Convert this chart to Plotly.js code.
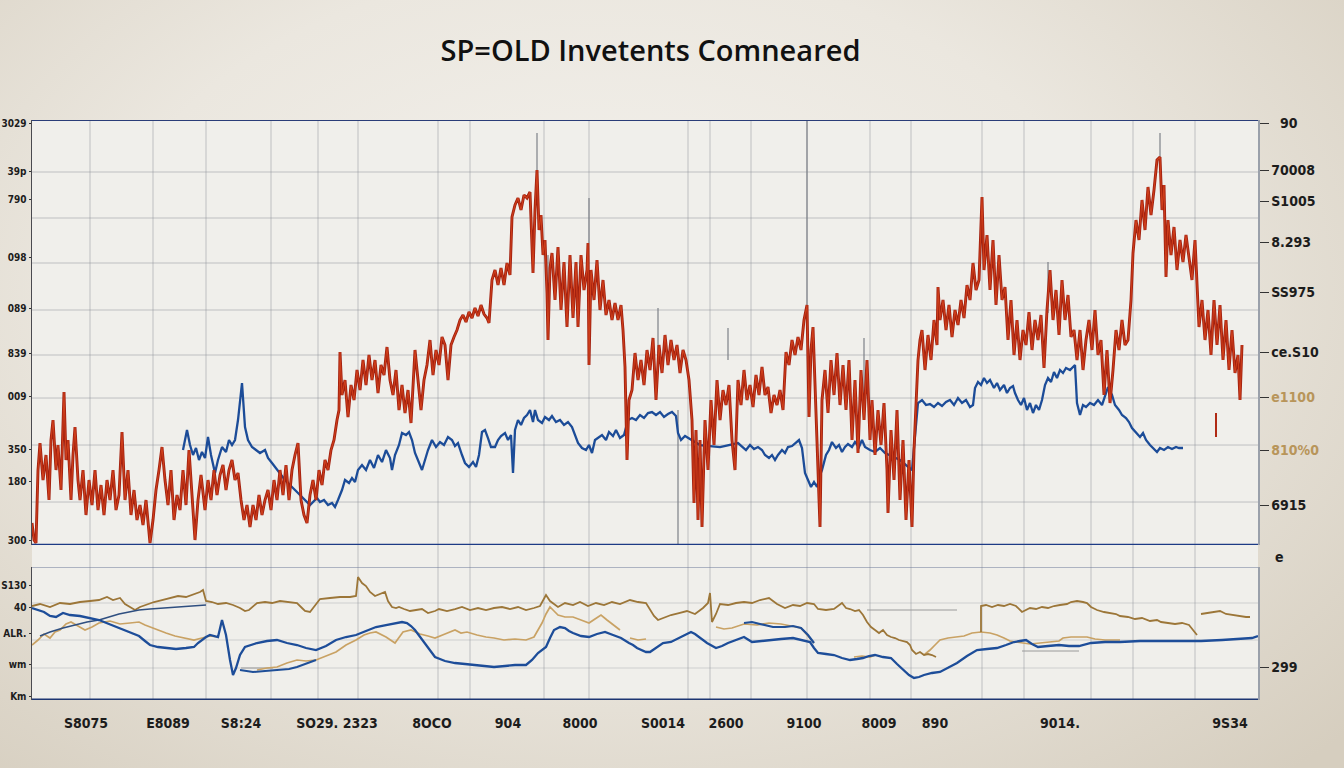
<!DOCTYPE html>
<html>
<head>
<meta charset="utf-8">
<script src="https://cdn.plot.ly/plotly-3.0.1.min.js"></script>
<style>
html,body{margin:0;padding:0;width:1344px;height:768px;overflow:hidden;
background:radial-gradient(ellipse 75% 85% at 45% 38%, #f4f2ee 0%, #ebe7df 50%, #d6cebf 100%);}
#chart{width:1344px;height:768px;}
</style>
</head>
<body>
<div id="chart"></div>
<script>
// ---------- TOP PANEL (index points) ----------
const redX = [32,34,36,38,40,43,46,49,51,53,56,58,61,64,66,68,71,73,75,78,80,83,86,89,92,95,98,101,104,107,110,113,116,119,122,125,128,131,134,137,140,143,146,149,150,153,156,159,162,165,168,171,174,177,180,183,186,189,192,195,198,201,205,208,211,214,217,220,223,226,229,232,235,238,241,244,247,250,253,256,259,262,265,268,271,274,277,280,283,286,289,292,295,298,301,304,307,310,313,316,319,322,325,328,331,334,337,339,340,342,345,348,351,354,357,360,363,366,369,372,375,378,381,384,387,390,393,396,399,402,405,408,411,414,415,418,421,424,427,430,433,436,439,442,445,448,451,454,457,460,463,466,469,472,475,478,481,484,487,489,492,495,498,501,504,507,510,512,515,518,521,524,527,530,533,535,537,539,541,543,545,547,548,550,552,555,558,561,564,567,570,573,576,578,581,584,587,588,589,591,594,597,600,603,606,609,612,615,618,621,623,625,627,629,632,635,638,641,644,647,650,653,656,659,662,665,668,671,674,677,680,683,686,689,692,694,696,698,700,702,705,708,711,714,717,720,723,726,729,732,735,738,741,744,747,750,753,756,759,762,765,768,771,774,777,780,783,786,789,792,795,798,801,804,807,809,811,813,816,818,820,822,825,828,831,834,837,840,843,846,849,852,855,858,861,864,867,870,872,875,878,881,884,887,888,891,894,897,900,903,906,909,912,914,916,918,920,922,925,928,931,934,937,938,940,943,946,949,952,955,958,961,964,967,970,973,976,979,982,984,987,990,993,996,999,1002,1005,1008,1011,1014,1017,1020,1023,1026,1029,1032,1035,1038,1041,1044,1047,1050,1053,1056,1059,1062,1065,1068,1071,1074,1077,1080,1083,1086,1089,1092,1095,1098,1101,1104,1107,1110,1113,1116,1119,1122,1125,1128,1131,1133,1136,1139,1142,1145,1148,1151,1154,1157,1160,1162,1164,1166,1168,1171,1174,1177,1180,1183,1186,1189,1192,1195,1197,1199,1202,1205,1208,1211,1214,1217,1220,1223,1226,1229,1232,1235,1238,1240,1242];
const redY = [22,5,2,75,102,65,90,45,105,125,75,100,55,153,85,105,45,90,118,65,45,75,30,65,40,75,35,60,30,65,45,75,35,50,113,45,75,30,55,25,40,20,45,15,2,25,55,75,98,65,40,75,25,50,35,75,40,95,45,5,45,70,35,65,45,75,50,70,80,55,75,85,65,72,45,25,40,18,40,25,50,30,45,55,35,65,45,75,50,80,45,75,90,102,45,30,22,50,65,45,75,60,85,75,95,105,125,135,193,150,165,128,160,145,175,155,185,160,190,165,185,152,180,170,198,165,150,175,135,160,132,155,122,175,195,165,135,165,180,205,170,195,180,208,200,165,200,208,215,225,230,223,233,227,237,229,240,231,227,222,265,275,260,277,260,282,270,328,340,347,335,350,347,353,272,335,375,315,330,290,305,252,205,277,292,245,298,235,283,218,290,227,283,218,290,255,275,302,180,275,245,285,235,265,230,245,225,242,225,240,215,178,85,145,155,192,165,185,160,195,175,207,145,200,172,210,180,205,185,200,172,195,185,165,125,42,115,25,105,18,125,75,145,100,165,125,155,140,160,105,75,165,140,175,145,160,138,170,150,178,150,158,132,150,140,155,135,193,180,205,190,208,195,225,240,128,195,218,125,65,18,145,175,132,185,150,192,140,180,135,185,105,165,92,175,125,185,105,145,90,135,100,142,75,32,115,65,135,45,105,25,85,18,95,145,185,205,215,175,210,185,225,200,258,225,245,215,240,208,235,220,245,227,260,245,282,255,265,348,275,310,255,305,240,290,245,258,205,245,190,225,185,215,200,233,195,225,205,230,177,235,275,225,255,210,265,225,250,208,215,185,215,175,205,225,195,235,190,205,150,195,142,175,215,195,225,200,205,245,292,325,305,345,315,358,330,355,385,388,335,360,268,325,290,318,275,305,283,310,290,265,305,258,218,245,205,235,190,245,200,240,185,225,175,215,172,190,145,200];
const redDashX = [1216];
const redDashLow = [108];
const redDashHigh = [132];

const blueX = [183,187,190,193,196,199,202,205,208,211,215,218,222,226,229,232,235,238,242,244,245,248,252,256,260,265,268,272,285,300,310,317,320,324,328,332,335,338,342,345,349,352,355,358,362,366,370,374,378,382,386,390,392,395,399,402,406,409,412,415,418,422,425,428,432,436,440,444,448,452,455,458,462,465,469,473,476,479,482,485,488,491,495,498,501,505,508,511,513,515,518,521,524,527,530,533,535,538,542,545,549,552,556,560,564,568,572,575,578,582,586,589,592,595,599,602,606,609,613,616,620,624,628,632,636,640,644,648,652,656,660,664,668,672,676,678,681,685,700,720,738,742,746,750,754,758,762,765,769,772,775,778,782,785,788,792,795,799,802,805,808,811,814,817,820,822,826,829,832,836,839,842,845,848,852,855,859,862,865,870,875,880,885,900,912,918,922,926,930,934,938,942,946,950,954,958,962,966,970,973,975,978,981,984,987,990,994,997,1000,1004,1007,1010,1013,1015,1018,1021,1024,1027,1030,1033,1036,1039,1042,1045,1048,1051,1054,1057,1060,1063,1066,1070,1075,1077,1080,1083,1086,1090,1094,1098,1102,1105,1108,1112,1115,1119,1122,1126,1129,1132,1136,1140,1143,1146,1150,1153,1157,1160,1164,1168,1172,1176,1179,1183];
const blueY = [95,115,100,90,97,85,93,87,108,90,72,85,98,93,105,100,105,125,162,135,118,105,98,95,92,95,87,82,65,50,40,47,43,45,40,42,38,45,55,65,62,67,63,75,80,75,85,77,90,83,95,87,75,90,100,112,110,113,105,92,85,75,85,95,105,98,103,100,108,105,99,102,90,82,78,83,78,90,113,115,107,98,98,105,109,112,105,110,72,115,125,120,127,130,135,123,135,125,122,128,125,129,123,125,120,123,118,110,102,97,95,100,92,105,108,110,105,113,109,115,107,110,125,127,125,130,127,132,133,130,133,128,131,133,129,112,105,109,100,98,102,98,95,100,96,98,95,90,87,90,85,90,95,92,98,99,102,105,97,72,65,58,63,58,70,75,90,95,103,97,100,93,98,101,98,103,98,105,98,95,93,97,92,85,75,142,145,140,141,138,142,139,143,145,140,147,142,145,138,140,157,163,160,167,162,165,157,162,155,160,152,157,159,152,145,140,147,135,142,132,140,135,145,160,167,163,173,167,175,172,177,175,180,142,130,140,138,142,140,145,140,150,158,150,140,135,130,127,123,117,113,108,112,105,100,97,93,97,95,98,96,98,97,97];

// thin grey high-low wicks
const wickX = [537,548,589,658,678,728,807,864,1048,1160];
const wickLow = [375,205,302,192,0,185,240,145,232,388];
const wickHigh = [412,290,347,237,135,217,425,207,283,412];

// ---------- BOTTOM PANEL (relative points) ----------
const goldUpX = [32,40,50,60,70,80,90,99,107,113,120,125,130,135,140,148,154,162,170,178,186,194,200,203,206,212,218,226,233,240,245,249,254,257,265,272,280,288,297,302,305,310,316,320,330,340,350,356,358,362,366,370,375,380,385,388,392,396,399,404,410,416,422,428,435,439,447,455,462,470,478,486,494,502,510,518,526,534,540,546,550,554,558,565,573,580,588,596,604,612,620,630,638,646,650,654,658,663,671,679,687,695,703,708,710,712,716,720,728,736,744,752,760,769,777,785,793,800,807,814,818,826,834,842,846,850,855,859,863,867,871,875,879,883,887,891,895,899,903,907,910,912,916,920,924,928,932,936,null,981,981,986,992,998,1004,1010,1016,1022,1026,1030,1036,1042,1048,1054,1060,1067,1071,1077,1083,1087,1091,1097,1104,1110,1116,1120,1128,1135,1142,1150,1157,1161,1169,1175,1182,1189,1193,1197,null,1201,1208,1214,1220,1226,1232,1240,1246,1250];
const goldUpY = [94,96,93,97,96,98,99,100,103,100,102,96,93,90,93,96,98,100,102,104,103,106,108,110,99,98,96,97,95,92,89,90,94,97,98,97,99,98,97,92,89,88,96,101,102,103,103,104,123,117,114,108,104,106,108,99,93,92,93,91,89,90,91,87,89,91,89,91,93,90,92,90,92,93,91,93,90,92,94,105,99,96,93,97,95,98,94,97,95,98,96,100,98,97,90,84,80,82,85,87,89,86,92,97,107,78,86,96,95,97,98,97,100,102,96,92,95,94,97,96,91,90,91,97,92,91,89,90,85,78,73,70,67,70,65,63,62,60,59,58,55,50,46,48,45,46,45,43,null,68,94,95,93,95,94,96,94,88,90,92,91,93,92,94,95,96,98,99,98,97,93,90,88,87,86,84,83,81,82,79,80,78,77,76,77,75,70,65,null,86,87,88,89,86,85,84,83,83];

const goldLowX = [32,38,44,50,55,60,66,71,78,85,92,99,110,120,130,139,145,150,158,166,175,184,194,202,210,218,null,257,267,277,287,297,306,316,326,336,346,356,364,370,376,386,395,399,403,411,420,428,435,445,455,461,467,477,486,494,504,515,526,534,538,542,546,550,554,558,565,573,581,589,595,601,607,613,620,null,630,638,646,null,716,724,732,744,757,769,781,793,801,808,814,null,854,862,870,875,null,924,930,936,940,948,956,964,972,981,990,997,1004,1010,1016,1022,1030,1040,1050,1059,1063,1071,1079,1087,1095,1105,1115,1120];
const goldLowY = [55,60,66,62,68,70,76,78,74,70,73,77,79,76,77,78,75,73,70,67,64,62,60,62,64,63,null,30,32,33,37,40,39,40,44,48,55,60,65,67,68,63,57,63,68,70,66,64,62,66,70,67,68,65,63,62,60,61,60,63,70,77,86,93,89,85,83,83,80,77,81,85,80,75,70,null,62,60,61,null,73,71,72,76,75,77,76,74,72,64,57,null,43,44,43,45,null,45,50,56,60,62,63,64,67,68,67,65,62,59,58,57,56,57,58,59,62,63,63,63,61,60,60,60];

const blueLowX = [32,38,44,50,56,63,70,80,90,99,109,119,129,139,145,150,158,166,176,186,194,198,202,206,210,214,218,222,226,230,233,236,240,245,251,257,267,277,287,297,306,316,326,336,346,356,366,376,386,395,402,407,411,415,425,435,445,455,465,475,485,494,505,515,526,532,538,542,546,550,554,560,565,569,573,581,589,597,605,613,621,629,633,637,642,646,650,656,663,671,681,691,695,699,707,716,722,728,736,744,752,760,769,781,793,802,810,814,818,826,834,842,850,857,863,869,875,883,891,897,903,909,914,919,924,932,940,948,957,967,977,987,997,1006,1014,1020,1026,1032,1038,1048,1059,1069,1079,1091,1105,1120,1140,1161,1180,1201,1222,1242,1252,1258];
const blueLowY = [92,90,88,84,83,87,85,84,82,80,76,72,68,64,59,55,53,52,51,52,53,57,60,63,65,64,63,80,65,40,25,32,45,53,55,57,59,60,57,55,52,50,54,60,63,65,69,73,75,77,78,77,74,70,57,43,39,37,36,35,34,33,34,35,35,40,47,50,53,62,70,73,72,69,67,64,63,66,68,65,62,57,55,52,50,48,48,52,57,58,63,68,66,63,57,52,54,57,60,63,58,59,60,61,62,60,58,52,47,46,45,42,40,41,42,44,45,43,42,36,30,25,22,23,25,27,28,32,37,44,50,51,52,55,58,59,60,56,53,54,55,54,54,57,58,58,59,59,59,59,60,61,62,64];

const blueRiseX = [40,50,63,75,87,99,109,119,129,139,150,162,178,194,206];
const blueRiseY = [64,68,72,75,78,80,83,86,88,90,91,92,93,94,95];
const blueHumpX = [744,752,760,773,785,793,801,808,814];
const blueHumpY = [77,78,76,73,73,74,72,65,57];
const blueDipX = [240,253,265,277,289,297,306,316];
const blueDipY = [30,28,29,30,31,33,36,40];

const grayFlatX0 = [241,867,1022];
const grayFlatX1 = [273,957,1079];
const grayFlatY = [32,90,49];

// ---------- AXES TEXT ----------
const titleText = "SP=OLD Invetents Comneared";
const xTickVals = [86,168,241,337,432,508,580,663,726,804,879,935,1060,1230];
const xTickText = ["S8075","E8089","S8:24","SO29. 2323","8OCO","904","8000","S0014","2600","9100","8009","890","9014.","9S34"];
const leftTopVals = [422,374,346,288,237,192,149,96,64,5];
const leftTopText = ["3029","39p","790","098","089","839","009","350","180","300"];
const leftBotVals = [115,93,67,36,3];
const leftBotText = ["S130","40","ALR.","wm","Km"];
const rightTopVals = [422,375,344,303,253,193,148,95,40];
const rightTopText = ["\u00a0\u00a090","70008","S1005","8.293","SS975","ce.S10","<span style='color:#b8955a'>e1100</span>","<span style='color:#b8955a'>810%0</span>","6915"];
const rightBotVals = [33];
const rightBotText = ["299"];
const gridXVals = [90,153,206,271,318,358,438,470,544,589,688,710,751,807,870,911,982,1024,1091,1133,1195];
const gridTopVals = [373,327,282,235,190,147,100,43];
const gridBotVals = [97,60,32];

// ---------- helpers ----------
function vsegs(xs, lo, hi){const X=[],Y=[];xs.forEach((x,i)=>{X.push(x,x,null);Y.push(lo[i],hi[i],null);});return {X,Y};}
function hsegs(x0, x1, v){const X=[],Y=[];x0.forEach((x,i)=>{X.push(x,x1[i],null);Y.push(v[i],v[i],null);});return {X,Y};}

const wk = vsegs(wickX, wickLow, wickHigh);
const rd = vsegs(redDashX, redDashLow, redDashHigh);
const gf = hsegs(grayFlatX0, grayFlatX1, grayFlatY);

const traces = [
  {x:wk.X, y:wk.Y, xaxis:'x', yaxis:'y', mode:'lines', line:{color:'#7d8088', width:1.2}, hoverinfo:'skip'},
  {x:blueX, y:blueY, xaxis:'x', yaxis:'y', mode:'lines', line:{color:'#1c4c98', width:2.3}, hoverinfo:'skip'},
  {x:redX, y:redY, xaxis:'x', yaxis:'y', mode:'lines', line:{color:'#a3200f', width:2.9}, hoverinfo:'skip'},
  {x:redX, y:redY, xaxis:'x', yaxis:'y', mode:'lines', line:{color:'#d8461e', width:1.1}, opacity:0.8, hoverinfo:'skip'},
  {x:rd.X, y:rd.Y, xaxis:'x', yaxis:'y', mode:'lines', line:{color:'#b02a14', width:2}, hoverinfo:'skip'},
  {x:[], y:[], xaxis:'x', yaxis:'y3', mode:'lines', hoverinfo:'skip'},
  {x:gf.X, y:gf.Y, xaxis:'x', yaxis:'y2', mode:'lines', line:{color:'#9a9a9a', width:1}, hoverinfo:'skip'},
  {x:goldLowX, y:goldLowY, xaxis:'x', yaxis:'y2', mode:'lines', line:{color:'#c9a264', width:1.7}, hoverinfo:'skip'},
  {x:goldUpX, y:goldUpY, xaxis:'x', yaxis:'y2', mode:'lines', line:{color:'#9c7638', width:1.8}, hoverinfo:'skip'},
  {x:blueRiseX, y:blueRiseY, xaxis:'x', yaxis:'y2', mode:'lines', line:{color:'#2f4f80', width:1.6}, hoverinfo:'skip'},
  {x:blueDipX, y:blueDipY, xaxis:'x', yaxis:'y2', mode:'lines', line:{color:'#1f4f98', width:2}, hoverinfo:'skip'},
  {x:blueHumpX, y:blueHumpY, xaxis:'x', yaxis:'y2', mode:'lines', line:{color:'#1f4f98', width:2.2}, hoverinfo:'skip'},
  {x:blueLowX, y:blueLowY, xaxis:'x', yaxis:'y2', mode:'lines', line:{color:'#1d4d99', width:2.3}, hoverinfo:'skip'},
  {x:[], y:[], xaxis:'x', yaxis:'y4', mode:'lines', hoverinfo:'skip'}
];

const gridCol = 'rgba(130,132,142,0.45)';
const shapes = [
  {type:'rect', xref:'paper', yref:'paper', x0:0, x1:1, y0:0, y1:1, fillcolor:'#f0efeb', line:{width:0}, layer:'below'}
];
gridXVals.forEach(g=>shapes.push({type:'line', xref:'x', yref:'paper', x0:g, x1:g, y0:0, y1:1, line:{color:gridCol, width:1}, layer:'below'}));
gridTopVals.forEach(g=>shapes.push({type:'line', xref:'paper', yref:'y', x0:0, x1:1, y0:g, y1:g, line:{color:gridCol, width:1}, layer:'below'}));
gridBotVals.forEach(g=>shapes.push({type:'line', xref:'paper', yref:'y2', x0:0, x1:1, y0:g, y1:g, line:{color:'rgba(130,132,142,0.3)', width:1}, layer:'below'}));
shapes.push({type:'line', xref:'paper', yref:'y', x0:0, x1:1, y0:425, y1:425, line:{color:'#2a3d78', width:2}});
shapes.push({type:'line', xref:'paper', yref:'y', x0:0, x1:1, y0:0, y1:0, line:{color:'#1d3b85', width:2.5}});
shapes.push({type:'line', xref:'paper', yref:'y2', x0:0, x1:1, y0:133, y1:133, line:{color:'#6a7898', width:1}});
shapes.push({type:'line', xref:'paper', yref:'y2', x0:0, x1:1, y0:0, y1:0, line:{color:'#1d3672', width:3}});

const tf = {family:'Liberation Sans Narrow, DejaVu Sans Condensed, Roboto, sans-serif', size:14, color:'#1c1c1c', weight:600};
const tfLeft = {family:'Liberation Sans Narrow, DejaVu Sans Condensed, Roboto, sans-serif', size:10, color:'#1c1c1c', weight:600};
const yCommon = {showgrid:false, zeroline:false, showline:true, linewidth:1.5, ticks:'outside', ticklen:5, tickcolor:'#333', tickfont:tf, fixedrange:true};

const layout = {
  width:1344, height:768,
  margin:{l:32, r:86, t:120, b:68},
  paper_bgcolor:'rgba(0,0,0,0)', plot_bgcolor:'rgba(0,0,0,0)',
  showlegend:false,
  title:{text:titleText, x:0.484, xanchor:'center', y:0.934, yanchor:'middle',
         font:{family:'Open Sans, Lato, sans-serif', size:29, color:'#111', weight:600}},
  xaxis:{range:[32,1258], anchor:'y2', domain:[0,1], tickmode:'array', tickvals:xTickVals, ticktext:xTickText,
         showgrid:false, zeroline:false, showline:false, ticks:'outside', ticklen:10, tickcolor:'rgba(0,0,0,0)', tickfont:tf},
  yaxis:Object.assign({}, yCommon, {domain:[0.2672,1], range:[0,425], anchor:'x', tickmode:'array', tickvals:leftTopVals, ticktext:leftTopText, linecolor:'#4a4a50', ticklen:2, tickfont:tfLeft}),
  yaxis2:Object.assign({}, yCommon, {domain:[0,0.2293], range:[0,133], anchor:'x', tickmode:'array', tickvals:leftBotVals, ticktext:leftBotText, linecolor:'#4a4a50', ticklen:2, tickfont:tfLeft}),
  yaxis3:Object.assign({}, yCommon, {overlaying:'y', side:'right', anchor:'x', range:[0,425], tickmode:'array', tickvals:rightTopVals, ticktext:rightTopText, linecolor:'#9aa0aa', ticklen:9}),
  yaxis4:Object.assign({}, yCommon, {overlaying:'y2', side:'right', anchor:'x', range:[0,133], tickmode:'array', tickvals:rightBotVals, ticktext:rightBotText, linecolor:'#9aa0aa', ticklen:9}),
  shapes:shapes,
  annotations:[{text:'e', xref:'paper', yref:'paper', x:1.012, y:0.247, xanchor:'left', yanchor:'middle', showarrow:false, font:tf}]
};

Plotly.newPlot('chart', traces, layout, {staticPlot:true, displayModeBar:false});
</script>
</body>
</html>
